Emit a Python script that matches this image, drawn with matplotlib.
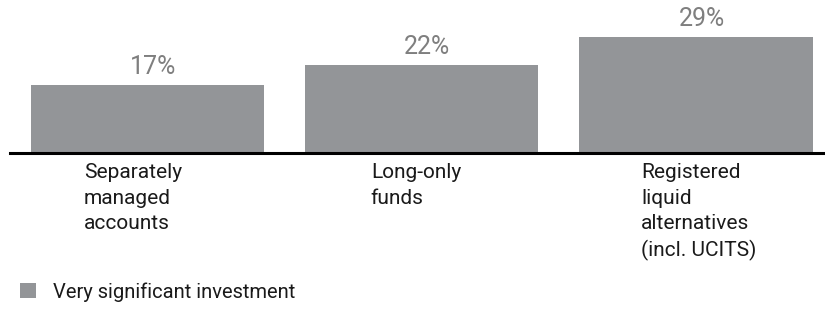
import matplotlib.pyplot as plt

categories = ["Separately\nmanaged\naccounts", "Long-only\nfunds",
              "Registered\nliquid\nalternatives\n(incl. UCITS)"]
values = [17, 22, 29]
value_labels = ["17%", "22%", "29%"]
series_name = "Very significant investment"

plt.rcParams["font.family"] = ["Roboto", "DejaVu Sans"]

fig = plt.figure(figsize=(8.25, 3.15), dpi=100)
ax = fig.add_axes([10 / 825, 162 / 315, 815 / 825, 153 / 315])

x = range(len(values))
bars = ax.bar(x, values, width=0.85, color="#939598")
texts = ax.bar_label(bars, labels=value_labels, padding=4, fontsize=18,
                     color="#7f7f7f")
# labels in the original sit a little right of the bar centre
for t in texts:
    t.xyann = (4, 4)

ax.set_xlim(-0.5, 2.47)
ax.set_ylim(0, 38.25)
ax.axhline(0, color="black", lw=2.2, clip_on=False)
for s in ax.spines.values():
    s.set_visible(False)
ax.set_xticks([])
ax.set_yticks([])

# category labels sit left-aligned under each bar
label_offsets = [-0.23, -0.185, -0.2]
for i, (cat, off) in enumerate(zip(categories, label_offsets)):
    ax.text(i + off, -2.6, cat, ha="left", va="top", fontsize=15,
            linespacing=1.42, color="#1a1a1a", clip_on=False)

fig.legend(handles=[bars], labels=[series_name], loc="center left",
           bbox_to_anchor=(0.024, 0.073), frameon=False, fontsize=14.5,
           borderpad=0, borderaxespad=0,
           handlelength=0.8, handleheight=0.8, handletextpad=0.85,
           labelcolor="#1a1a1a")

fig.savefig("out.png", dpi=100)
